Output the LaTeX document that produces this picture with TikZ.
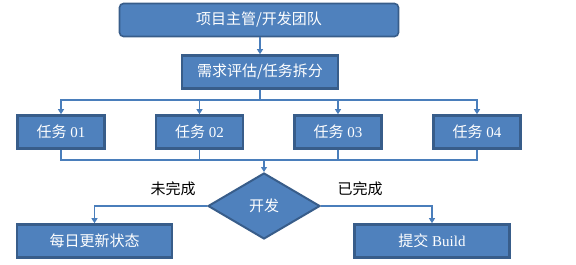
\documentclass[tikz,border=0pt]{standalone}
\usepackage{fontspec}
\setmainfont{Liberation Serif}
\newfontfamily\cjk{Noto Sans CJK SC}
\usepackage{tikz}
\usetikzlibrary{shapes.geometric,arrows.meta,positioning,calc}
\definecolor{boxblue}{HTML}{4F81BD}
\definecolor{boxedge}{HTML}{385D8A}
\definecolor{linkblue}{HTML}{4A7EBB}

\begin{document}
\begin{tikzpicture}[
    x=1pt, y=-1pt,
    font=\fontsize{15}{17}\selectfont,
    >={Triangle[length=5pt,width=6pt]},
    head/.style={rectangle, rounded corners=4pt, draw=boxedge, line width=1.6pt,
      fill=boxblue, text=white, minimum width=279pt, minimum height=33pt, inner sep=0pt},
    task/.style={rectangle, draw=boxedge, line width=2.6pt, fill=boxblue, text=white,
      minimum height=33pt, inner sep=0pt},
    check/.style={diamond, draw=boxedge, line width=2pt, fill=boxblue, text=white,
      minimum width=112pt, minimum height=66pt, inner sep=0pt},
    flow/.style={->, line width=1.1pt, draw=linkblue},
    link/.style={line width=1.1pt, draw=linkblue},
    blab/.style={text=black, inner sep=1pt}
  ]
  \useasboundingbox (0,0) rectangle (576,265);
  \node[head] (team) at (259,20) {\cjk 项目主管/开发团队};
  \node[task, minimum width=156pt] (split) at (260,72) {\cjk 需求评估/任务拆分};
  \node[task, minimum width=87pt] (t1) at (61,132) {{\cjk 任务} 01};
  \node[task, minimum width=87pt] (t2) at (199.5,132) {{\cjk 任务} 02};
  \node[task, minimum width=87pt] (t3) at (338,132) {{\cjk 任务} 03};
  \node[task, minimum width=87pt] (t4) at (477,132) {{\cjk 任务} 04};
  \node[check] (dev) at (264,206) {\cjk 开发};
  \node[task, minimum width=155pt] (daily) at (94.5,241) {\cjk 每日更新状态};
  \node[task, minimum width=155pt] (build) at (432,241) {{\cjk 提交} Build};
  \node[blab] (undone) at (173,189) {\cjk 未完成};
  \node[blab] (done) at (360,189) {\cjk 已完成};
  \coordinate (fan) at (260,100);
  \coordinate (merge) at (264,160);
  \draw[flow] (team.south -| split.north) -- (split.north);
  \draw[link] (split.south) -- (fan);
  \foreach \t in {t1,t2,t3,t4} {
    \draw[flow] (fan) -| (\t.north);
    \draw[link] (\t.south) |- (merge);
  }
  \draw[flow] (merge) -- (dev.north);
  \draw[flow] (dev.west) -| (daily.north);
  \draw[flow] (dev.east) -| (build.north);
\end{tikzpicture}
\end{document}
